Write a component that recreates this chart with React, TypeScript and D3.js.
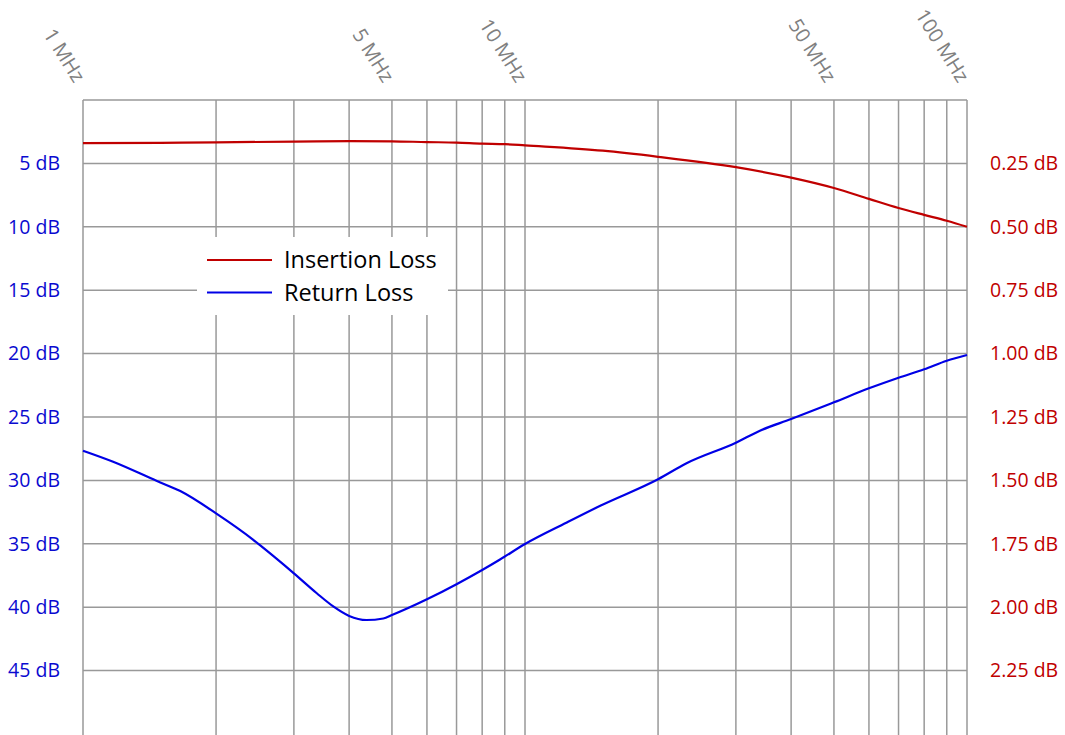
import React from "react";
import * as d3 from "d3";

const insertionFreq = [1, 1.5, 2, 3, 4, 5, 6, 7, 8, 9, 10, 15, 20, 30, 40, 50, 60, 70, 80, 90, 100];
const insertionLoss = [0.17, 0.169, 0.167, 0.164, 0.162, 0.163, 0.166, 0.168, 0.172, 0.174, 0.179, 0.2, 0.224, 0.265, 0.306, 0.347, 0.39, 0.426, 0.453, 0.476, 0.5];

const returnFreq = [1, 1.17, 1.47, 1.66, 2, 2.42, 2.51, 3, 3.38, 3.69, 4, 4.38, 4.78, 5, 6, 7, 8, 8.78, 10, 12.4, 14.8, 20, 23.2, 30, 34, 40, 50, 60, 70, 80, 90, 100];
const returnLoss = [27.66, 28.53, 30.05, 30.84, 32.6, 34.65, 35.09, 37.33, 38.9, 39.96, 40.69, 41.01, 40.89, 40.62, 39.38, 38.19, 37.07, 36.24, 35.02, 33.34, 32.0, 29.91, 28.65, 27.03, 26.08, 25.16, 23.84, 22.74, 21.9, 21.24, 20.56, 20.11];

const gridFreqs = [1, 2, 3, 4, 5, 6, 7, 8, 9, 10, 20, 30, 40, 50, 60, 70, 80, 90, 100];
const xTickFreqs = [1, 5, 10, 50, 100];
const xTickLabels = ["1 MHz", "5 MHz", "10 MHz", "50 MHz", "100 MHz"];
const leftTicks = [5, 10, 15, 20, 25, 30, 35, 40, 45];
const rightTicks = [0.25, 0.5, 0.75, 1.0, 1.25, 1.5, 1.75, 2.0, 2.25];
const gridY = [0, 5, 10, 15, 20, 25, 30, 35, 40, 45];

const W = 1065, H = 735;
const L = 83, R = 967, T = 100, B = 734;
const FONT = "'Open Sans', 'Noto Sans', sans-serif";
const RED = "#c00000";
const BLUE = "#0000e6";
const BLUE_TXT = "#0a0ad0";

export default function App() {
  const x = d3.scaleLog().domain([1, 100]).range([L, R]);
  const yL = d3.scaleLinear().domain([0, 50]).range([T, B]);
  const yR = d3.scaleLinear().domain([0, 2.5]).range([T, B]);

  const redLine = d3.line<number>()
    .x((_, i) => x(insertionFreq[i]))
    .y((d) => yR(d))
    .curve(d3.curveMonotoneX)(insertionLoss) || "";
  const blueLine = d3.line<number>()
    .x((_, i) => x(returnFreq[i]))
    .y((d) => yL(d))
    .curve(d3.curveMonotoneX)(returnLoss) || "";

  return (
    <svg width={W} height={H} style={{ position: "absolute", left: 0, top: 0, background: "#fff" }} fontFamily={FONT}>
      <rect x={0} y={0} width={W} height={H} fill="#fff" />
      {gridY.map((v) => (
        <line key={"h" + v} x1={L} x2={R} y1={yL(v)} y2={yL(v)} stroke="#999" strokeWidth={1.5} />
      ))}
      {gridFreqs.map((f) => (
        <line key={"v" + f} x1={x(f)} x2={x(f)} y1={T} y2={H} stroke="#999" strokeWidth={1.5} />
      ))}
      {xTickFreqs.map((f, i) => (
        <text key={"xt" + f} transform={`translate(${x(f) - 9},${84}) rotate(58)`} textAnchor="end" fontSize={20} fill="#808080">
          {xTickLabels[i]}
        </text>
      ))}
      {leftTicks.map((v) => (
        <text key={"lt" + v} x={60} y={yL(v)} dy="0.35em" textAnchor="end" fontSize={19.5} fill={BLUE_TXT}>
          {v} dB
        </text>
      ))}
      {rightTicks.map((v) => (
        <text key={"rt" + v} x={990} y={yR(v)} dy="0.35em" textAnchor="start" fontSize={19.5} fill={RED}>
          {v.toFixed(2)} dB
        </text>
      ))}
      <path d={redLine} fill="none" stroke={RED} strokeWidth={2.2} />
      <path d={blueLine} fill="none" stroke={BLUE} strokeWidth={2.2} />
      <g>
        <rect x={197} y={237} width={251} height={78} fill="#fff" />
        <line x1={207} x2={272} y1={260} y2={260} stroke={RED} strokeWidth={2} />
        <line x1={207} x2={272} y1={292.5} y2={292.5} stroke={BLUE} strokeWidth={2} />
        <text x={284} y={260} dy="0.35em" fontSize={23.5} fill="#000">Insertion Loss</text>
        <text x={284} y={292.5} dy="0.35em" fontSize={23.5} fill="#000">Return Loss</text>
      </g>
    </svg>
  );
}
